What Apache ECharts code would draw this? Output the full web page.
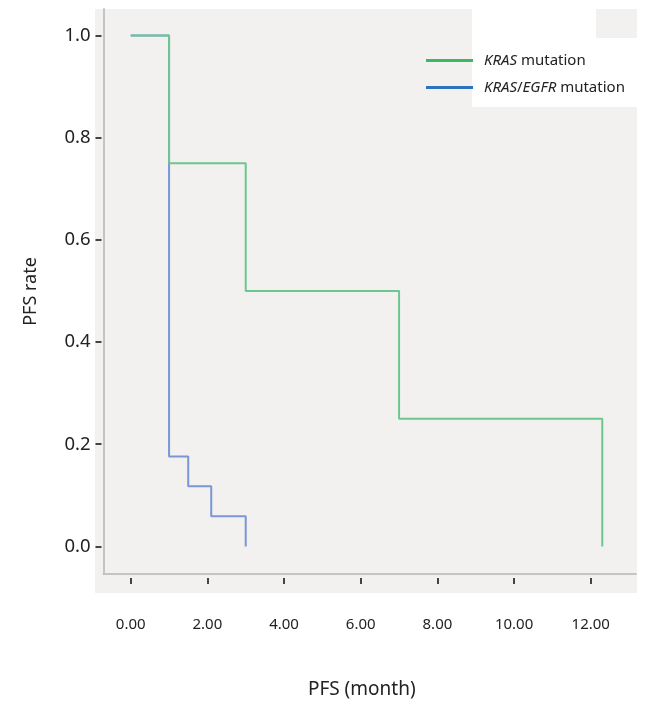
<!DOCTYPE html>
<html>
<head>
<meta charset="utf-8">
<script src="https://cdn.jsdelivr.net/npm/echarts@6/dist/echarts.min.js"></script>
<style>html,body{margin:0;padding:0;background:#fff;}#c{width:645px;height:704px;}</style>
</head>
<body>
<div id="c"></div>
<script>
// Kaplan-Meier step points [month, PFS rate]
var krasMonths = [0, 1, 3, 7, 12.3];
var krasRates  = [1.0, 0.75, 0.5, 0.25, 0.0];
var egfrMonths = [0, 1, 1.5, 2.1, 3.0];
var egfrRates  = [1.0, 0.176, 0.118, 0.059, 0.0];
var seriesNames = ['KRAS mutation', 'KRAS/EGFR mutation'];
var xTicks = [0, 2, 4, 6, 8, 10, 12];
var yTicks = [0, 0.2, 0.4, 0.6, 0.8, 1.0];

function pairs(xs, ys){ return xs.map(function(x,i){return [x, ys[i]];}); }

var FONT = '"Noto Sans", "Open Sans", sans-serif';
var chart = echarts.init(document.getElementById('c'));

var gridL = 103.5, gridT = 9, gridW = 532.5, gridH = 570;

chart.setOption({
  animation: false,
  backgroundColor: '#ffffff',
  textStyle: { fontFamily: FONT, color: '#222' },
  graphic: [
    { type: 'rect', z: -10, shape: { x: 95, y: 9, width: 542, height: 584 }, style: { fill: '#f2f1ef' } },
    { type: 'rect', z: 5, shape: { x: 472, y: 9, width: 165, height: 98 }, style: { fill: '#ffffff' } },
    { type: 'rect', z: 6, shape: { x: 596, y: 9, width: 41, height: 29 }, style: { fill: '#f2f1ef' } }
  ],
  grid: { left: gridL, top: gridT, width: gridW, height: gridH, containLabel: false },
  legend: {
    show: true,
    orient: 'vertical',
    left: 421,
    top: 48,
    itemWidth: 47,
    itemHeight: 3,
    itemGap: 12,
    icon: 'rect',
    z: 10,
    data: [
      { name: seriesNames[0], itemStyle: { color: '#3db85e' } },
      { name: seriesNames[1], itemStyle: { color: '#2b74bb' } }
    ],
    formatter: function(n){
      if (n === seriesNames[0]) return '{i|KRAS} mutation';
      return '{i|KRAS}/{i|EGFR} mutation';
    },
    textStyle: {
      fontFamily: FONT, fontSize: 15, color: '#222', padding: [0,0,0,6],
      rich: { i: { fontStyle: 'italic', fontFamily: FONT, fontSize: 15, color: '#222' } }
    }
  },
  xAxis: [
    {
      type: 'value', min: -0.71, max: 13.18, offset: 4,
      position: 'bottom',
      interval: 2,
      axisLine: { show: false, onZero: false },
      axisTick: { show: true, length: 6, lineStyle: { color: '#444', width: 2 }, customValues: xTicks },
      axisLabel: {
        margin: 39, fontSize: 15, color: '#222', fontFamily: FONT,
        customValues: xTicks,
        formatter: function(v){ return v.toFixed(2); }
      },
      splitLine: { show: false },
      name: 'PFS (month)', nameLocation: 'middle', nameGap: 102,
      nameTextStyle: { fontSize: 19, color: '#222', fontFamily: FONT, padding: [0, 16, 0, 0] }
    },
    {
      type: 'value', min: -0.71, max: 13.18, position: 'bottom', offset: 0,
      axisLine: { show: true, onZero: false, lineStyle: { color: '#c4c4c4', width: 2 } },
      axisTick: { show: false }, axisLabel: { show: false }, splitLine: { show: false }
    }
  ],
  yAxis: [
    {
      type: 'value', min: -0.054, max: 1.052, offset: 2,
      position: 'left',
      axisLine: { show: false, onZero: false },
      axisTick: { show: true, length: 6, lineStyle: { color: '#444', width: 2 }, customValues: yTicks },
      axisLabel: {
        margin: 11, fontSize: 18.5, color: '#222', fontFamily: FONT,
        customValues: yTicks,
        formatter: function(v){ return v.toFixed(1); }
      },
      splitLine: { show: false },
      name: 'PFS rate', nameLocation: 'middle', nameGap: 62, nameRotate: 90,
      nameTextStyle: { fontSize: 18, color: '#222', fontFamily: FONT }
    },
    {
      type: 'value', min: -0.054, max: 1.052, position: 'left', offset: 0,
      axisLine: { show: true, onZero: false, lineStyle: { color: '#c4c4c4', width: 2 } },
      axisTick: { show: false }, axisLabel: { show: false }, splitLine: { show: false }
    }
  ],
  series: [
    {
      name: seriesNames[1], type: 'line', step: 'end', z: 2,
      xAxisIndex: 0, yAxisIndex: 0,
      data: pairs(egfrMonths, egfrRates),
      showSymbol: false, symbol: 'none',
      lineStyle: { color: '#7a96d8', width: 2 },
      itemStyle: { color: '#7a96d8' }
    },
    {
      name: seriesNames[0], type: 'line', step: 'end', z: 3,
      xAxisIndex: 0, yAxisIndex: 0,
      data: pairs(krasMonths, krasRates),
      showSymbol: false, symbol: 'none',
      lineStyle: { color: '#6cc78e', width: 2 },
      itemStyle: { color: '#6cc78e' }
    }
  ]
});
</script>
</body>
</html>
